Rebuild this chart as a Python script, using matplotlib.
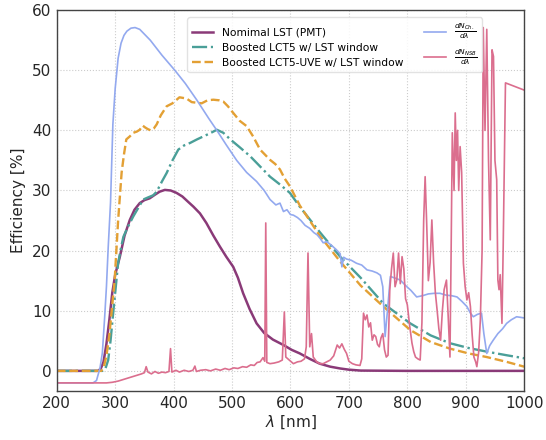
import matplotlib
matplotlib.use('Agg')
import matplotlib.pyplot as plt

# Cherenkov spectrum (normalised, offset)
lam_ch = [200, 262, 268, 274, 278, 282, 285, 288, 292, 296, 300, 305, 310, 315, 320, 327, 334, 342, 350,
          360, 380, 402, 420, 440, 460, 474, 490, 508, 525, 542, 555, 565, 575, 582, 588, 594, 600, 605,
          612, 618, 625, 633, 640, 646, 651, 656, 662, 670, 678, 685, 688, 691, 696, 704, 713, 722, 731,
          740, 748, 754, 758, 762, 766, 771, 780, 788, 797, 806, 816, 826, 836, 846, 856, 866, 876, 885,
          893, 902, 908, 913, 920, 927, 931, 936, 941, 947, 955, 963, 970, 978, 987, 994, 1000]
val_ch = [-2, -2, -1.6, 0.5, 3, 9, 14, 20.5, 28, 41, 47, 52, 54.5, 55.8, 56.5, 57, 57.1, 56.8, 56,
          55, 52.5, 50, 47.8, 45, 42, 40, 37.6, 35, 33, 31.5, 30, 28.5, 27.6, 27.9, 26.5, 26.8, 26, 25.9,
          25.5, 25, 24.2, 23.7, 23, 22.6, 22, 21.3, 21.5, 20.9, 20.2, 19.5, 17.3, 18.9, 18.6, 18.4, 17.9, 17.6, 16.8,
          16.6, 16.3, 15.9, 14, 5.7, 10, 15.7, 15.4, 15.1, 14.2, 13.4, 12.3, 12.5, 12.8, 12.9, 12.9, 12.6, 12.5, 12.3,
          11.6, 10.7, 9.6, 9, 9.4, 9.6, 6.2, 2.9, 4.2, 5.1, 6.2, 7, 7.9, 8.5, 9, 8.9, 8.8]

# Nominal LST (PMT)
lam_nom = [200, 270, 275, 280, 285, 290, 295, 300, 308, 316, 325, 333, 342, 350, 359, 368, 376, 385, 395,
           405, 415, 425, 434, 445, 456, 468, 479, 490, 502, 510, 519, 530, 542, 555, 570, 588, 602, 616,
           633, 650, 668, 685, 700, 720, 800, 1000]
val_nom = [0, 0, 0.3, 1.5, 4.5, 8.5, 13, 16, 19, 22.5, 25.1, 26.8, 27.9, 28.4, 28.7, 29.3, 29.8, 30.1, 30,
           29.6, 29, 28.1, 27.3, 26.2, 24.6, 22.5, 20.7, 19, 17.3, 15.5, 12.9, 10.3, 7.9, 6.3, 5.2, 4.3, 3.5, 2.9,
           2, 1.2, 0.7, 0.4, 0.2, 0.05, 0, 0]

# Boosted LCT5 w/ LST window
lam_lct5 = [200, 278, 283, 288, 292, 296.5, 301, 305, 310, 314, 322, 331, 340, 348, 355, 365, 371, 380, 388,
            398, 408, 418, 428, 440, 451, 462, 474, 485, 497, 513, 531, 548, 565, 582, 599, 616, 650, 685,
            720, 759, 805, 840, 873, 905, 936, 970, 1000]
val_lct5 = [0, 0, 0.3, 1.8, 5, 9.6, 14, 17.9, 20.5, 22.3, 24, 25.7, 27.2, 28.5, 28.8, 29.2, 29.8, 31.5, 32.9,
            35, 36.8, 37.5, 37.9, 38.5, 39, 39.5, 40.1, 39.6, 38.5, 37.2, 35.7, 34, 32.3, 31, 29.6, 27.3, 23.1, 19,
            15.5, 11.2, 7.9, 5.9, 4.6, 3.8, 3.2, 2.6, 2.1]

# Boosted LCT5-UVE w/ LST window
lam_uve = [200, 276, 280, 285, 290, 294, 299, 305, 311, 315, 319, 325, 331, 337, 342, 347, 351, 356, 361,
           366, 371, 378, 388, 398, 410, 422, 431, 439, 448, 458, 468, 478, 485, 493, 502, 513, 525, 536,
           548, 556, 565, 574, 582, 590, 599, 616, 650, 685, 720, 759, 805, 840, 873, 905, 936, 970, 1000]
val_uve = [0, 0, 0.5, 2.5, 6, 10, 15, 25, 33, 36, 38.5, 39, 39.6, 39.8, 40.1, 40.8, 40.5, 40.2, 40,
           40.3, 41, 42.5, 44, 44.5, 45.5, 45.3, 44.7, 44.6, 44.5, 45, 45.1, 45, 44.8, 44, 42.9, 41.6, 40.7, 39,
           36.8, 36, 35.1, 34.4, 33.5, 32, 30.7, 27.5, 22.5, 18.2, 14.2, 10.7, 6.8, 4.8, 3.7, 2.9, 2.3, 1.5, 0.7]

# Night sky background (normalised, offset)
lam_nsb = [200, 285, 295, 305, 315, 325, 335, 345, 350, 353, 356, 362, 368, 374, 380, 386, 392, 394.7, 397,
           404, 410, 418, 426, 433, 436.4, 439, 446, 455, 463, 472, 480, 488, 495, 503, 510, 518, 525,
           532, 538, 543, 548, 553, 556, 557.7, 559.5, 565, 572, 580, 586, 589.5, 592, 598, 605, 612,
           618, 624, 627, 630, 633, 636, 639, 645, 650, 656, 662, 668, 674, 680, 684, 688, 692, 696,
           700, 706, 712, 719, 722, 725, 728, 731, 734, 737, 740, 743, 746, 749, 752, 755, 758, 761,
           764, 767, 770, 773, 776, 779, 782, 785, 788, 791, 794, 797, 800, 804, 808, 811, 814, 818,
           822, 825, 828, 830.5, 833, 836, 839, 842, 845, 848, 851, 854, 857, 860, 863, 867, 870, 873,
           875, 877, 880, 882, 884, 886, 888, 890.4, 893, 896, 899, 902, 905, 908, 911, 914, 917, 919,
           922, 925, 928, 930, 933, 936, 939, 942, 945, 947.5, 950, 953, 955, 957, 959, 962, 964, 968, 1000]
val_nsb = [-2, -2, -1.9, -1.7, -1.4, -1.1, -0.8, -0.5, -0.3, 0.7, -0.2, -0.5, -0.1, -0.4, -0.2, -0.3, -0.1, 3.7, -0.2,
           0.1, -0.2, 0.1, -0.1, 0.1, 0.8, -0.1, 0.1, 0.2, 0, 0.3, 0.1, 0.4, 0.2, 0.5, 0.4, 0.7, 0.6,
           1.0, 0.9, 1.4, 1.5, 2.2, 1.6, 24.6, 1.4, 1.2, 1.3, 1.5, 1.8, 9.8, 2.3, 1.8, 1.2, 1.5,
           1.6, 2.0, 4, 19.6, 4, 6.2, 2.3, 1.5, 1.2, 1.2, 1.5, 1.8, 2.5, 4.3, 3.8, 4.5, 3.6, 2.9,
           1.6, 1.2, 1.0, 0.9, 2, 9.6, 8.5, 9.3, 7.3, 8, 5.1, 6, 5.7, 4.4, 4, 5.5, 6.2, 3.5,
           2.3, 2.6, 13.5, 17, 19.6, 14, 15.1, 19.6, 14.5, 19, 17, 12, 11, 7.5, 4.6, 3.2, 2.3, 2.0,
           1.8, 8, 25, 32.3, 25, 15, 18, 25.1, 18, 13, 10.1, 7, 5.1, 10, 13.5, 15.1, 9, 2.3,
           20, 39.6, 30, 42.9, 35, 40, 30, 37.3, 33, 17.9, 14, 11.8, 13, 10.7, 6, 2.3, 1.5, 0.7,
           3, 8.5, 20, 57.1, 40, 56.8, 35, 21.8, 53.4, 52.3, 35, 31.8, 15.1, 13.5, 16, 7.9, 20, 47.9, 46.7]

c_nom = '#8a3a78'
c_lct5 = '#4a9f98'
c_uve = '#e3a034'
c_ch = '#93a9ef'
c_nsb = '#db6e8e'

fig = plt.figure(figsize=(5.46, 4.40), dpi=100)
ax = fig.add_axes([0.104, 0.112, 0.856, 0.865])

l1, = ax.plot(lam_nom, val_nom, color=c_nom, lw=1.8, label='Nomimal LST (PMT)')
l2, = ax.plot(lam_lct5, val_lct5, color=c_lct5, lw=1.7, ls='-.', label='Boosted LCT5 w/ LST window')
l3, = ax.plot(lam_uve, val_uve, color=c_uve, lw=1.7, ls='--', label='Boosted LCT5-UVE w/ LST window')
l4, = ax.plot(lam_ch, val_ch, color=c_ch, lw=1.2, label=r'$\frac{dN_{Ch.}}{d\lambda}$')
l5, = ax.plot(lam_nsb, val_nsb, color=c_nsb, lw=1.2, label=r'$\frac{dN_{NSB}}{d\lambda}$')

ax.set_xlim(200, 1000)
ax.set_ylim(-3.3, 60)
ax.set_xticks(range(200, 1001, 100))
ax.set_yticks(range(0, 61, 10))
ax.grid(True, ls=':', color='#cccccc', lw=0.8)
ax.set_axisbelow(True)
for s in ax.spines.values():
    s.set_color('#444444')
    s.set_linewidth(1.0)
ax.tick_params(labelsize=11, colors='#262626', length=0, pad=4)

ax.set_xlabel(r'$\lambda$ [nm]', fontsize=11, color='#262626', labelpad=2)
ax.set_ylabel('Efficiency [%]', fontsize=11, color='#262626', labelpad=4)

ax.legend(handles=[l1, l2, l3, l4, l5], ncol=2, fontsize=7.7, loc='upper left',
          bbox_to_anchor=(0.268, 0.995), columnspacing=2.0, framealpha=0.85,
          edgecolor='#dddddd')

plt.savefig('out.png', dpi=100)
